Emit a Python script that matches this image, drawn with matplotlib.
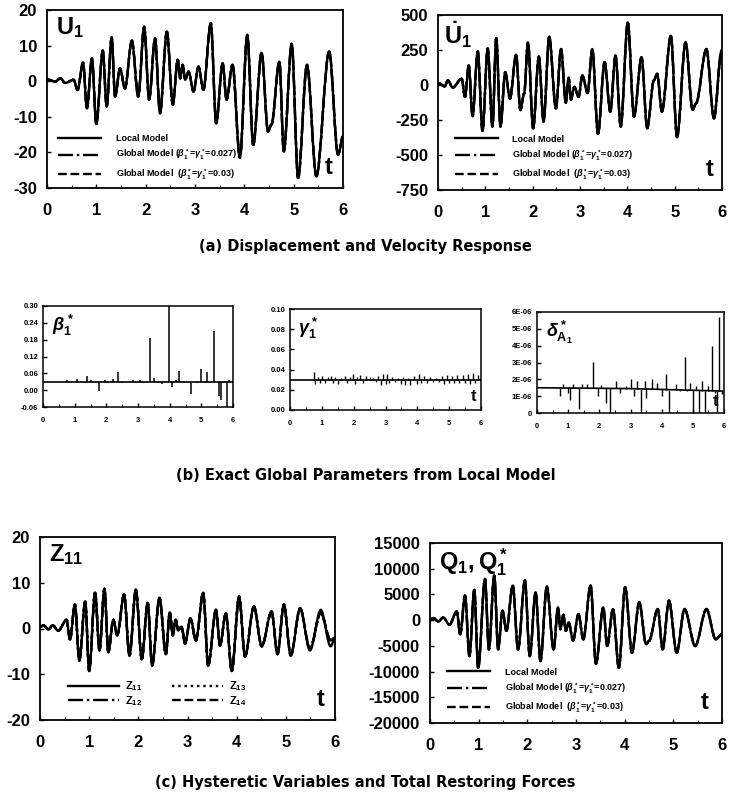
import numpy as np
import matplotlib
matplotlib.use('Agg')
import matplotlib.pyplot as plt
from matplotlib.path import Path
from matplotlib.patches import PathPatch
from matplotlib.ticker import MultipleLocator

plt.rcParams['font.family'] = ['Liberation Sans', 'DejaVu Sans']
plt.rcParams['font.weight'] = 'bold'
plt.rcParams['axes.unicode_minus'] = False
plt.rcParams['mathtext.fontset'] = 'custom'
plt.rcParams['mathtext.rm'] = 'Liberation Sans'
plt.rcParams['mathtext.it'] = 'Liberation Sans:italic'
plt.rcParams['mathtext.bf'] = 'Liberation Sans:bold'

# --- (a) displacement U1: extrema (t, value)
u_t = [0.0, 0.17, 0.27, 0.37, 0.54, 0.62, 0.73, 0.81, 0.91, 1.0, 1.13, 1.21, 1.31, 1.38,
       1.48, 1.58, 1.72, 1.85, 1.97, 2.07, 2.19, 2.29, 2.43, 2.55, 2.65, 2.70, 2.75, 2.80,
       2.87, 2.97, 3.07, 3.17, 3.32, 3.43, 3.56, 3.64, 3.76, 3.91, 4.06, 4.18, 4.35, 4.48,
       4.55, 4.71, 4.80, 4.96, 5.09, 5.27, 5.46, 5.72, 5.90, 6.0]
u_v = [0.5, -0.1, 0.8, -0.5, 0.4, -2.5, 5.2, -7.6, 6.4, -12.0, 8.6, -7.1, 12.3, -4.3,
       3.6, -2.0, 11.4, -4.3, 15.3, -5.2, 12.0, -9.0, 13.9, -6.6, 6.0, 0.8, 4.6, 0.4,
       2.7, -2.9, 4.1, -2.4, 16.3, -11.8, 5.0, -5.2, 4.6, -21.5, 13.0, -17.9, 8.0, -14.1,
       -12.2, 5.5, -19.7, 10.5, -27.2, 4.6, -26.7, 8.3, -20.7, -15.5]

# --- (a) velocity dU1/dt
v_t = [0.0, 0.03, 0.14, 0.21, 0.31, 0.50, 0.57, 0.65, 0.73, 0.84, 0.94, 1.05, 1.15, 1.23,
       1.32, 1.42, 1.52, 1.65, 1.74, 1.82, 1.90, 2.01, 2.13, 2.23, 2.35, 2.49, 2.60, 2.70,
       2.76, 2.81, 2.88, 2.97, 3.05, 3.16, 3.26, 3.38, 3.52, 3.64, 3.75, 3.86, 4.01, 4.14,
       4.30, 4.42, 4.56, 4.63, 4.73, 4.92, 5.05, 5.23, 5.38, 5.45, 5.67, 5.83, 5.99]
v_v = [0, 10, -10, 33, -19, 45, -85, 139, -222, 240, -328, 262, -297, 335,
       -297, 92, -97, 217, -179, -61, 304, -309, 203, -262, 344, -167, 257, -127,
       52, -104, -14, -85, 68, -57, 257, -349, 163, -191, 210, -297, 446, -226,
       198, -309, 33, 80, -191, 351, -373, 304, -179, -132, 257, -238, 245]

# --- (b) exact global parameters: baseline + spikes
beta_base = 0.03
beta_spk_t = [0.76, 1.08, 1.38, 1.52, 1.76, 1.95, 2.05, 2.20, 2.36, 2.48, 2.85, 2.95, 3.05,
              3.15, 3.38, 3.50, 3.62, 3.75, 3.98, 4.08, 4.20, 4.30, 4.45, 4.68, 4.85, 5.00,
              5.10, 5.18, 5.26, 5.40, 5.55, 5.62, 5.72, 5.80, 5.88]
beta_spk_v = [0.036, 0.040, 0.052, 0.036, -0.004, 0.036, 0.026, 0.040, 0.066, 0.025, 0.035,
              0.025, 0.036, 0.026, 0.185, 0.045, 0.025, 0.022, 0.300, 0.012, 0.036, 0.070,
              0.025, -0.015, 0.024, 0.076, 0.025, 0.064, 0.025, 0.210, -0.020, -0.035,
              0.025, -0.060, 0.035]

gamma_base = 0.030
gamma_spk_t = [0.76, 0.80, 0.88, 0.95, 1.02, 1.10, 1.18, 1.28, 1.35, 1.42, 1.52, 1.60, 1.72,
               1.78, 1.88, 1.98, 2.05, 2.12, 2.20, 2.30, 2.40, 2.50, 2.60, 2.70, 2.78, 2.85,
               2.92, 3.00, 3.05, 3.12, 3.20, 3.30, 3.40, 3.50, 3.55, 3.62, 3.70, 3.78, 3.88,
               3.98, 4.05, 4.12, 4.22, 4.30, 4.40, 4.50, 4.60, 4.68, 4.78, 4.85, 4.92, 5.00,
               5.08, 5.15, 5.25, 5.32, 5.42, 5.50, 5.58, 5.65, 5.75, 5.82, 5.90]
gamma_spk_v = [0.038, 0.026, 0.033, 0.027, 0.034, 0.027, 0.033, 0.034, 0.027, 0.033, 0.026,
               0.032, 0.034, 0.027, 0.033, 0.036, 0.026, 0.033, 0.035, 0.027, 0.034, 0.033,
               0.032, 0.028, 0.034, 0.025, 0.036, 0.026, 0.036, 0.027, 0.033, 0.028, 0.032,
               0.026, 0.033, 0.025, 0.032, 0.025, 0.034, 0.026, 0.036, 0.027, 0.034, 0.027,
               0.033, 0.028, 0.032, 0.028, 0.034, 0.026, 0.035, 0.027, 0.034, 0.027, 0.035,
               0.027, 0.035, 0.027, 0.036, 0.026, 0.037, 0.027, 0.035]

delta_base_t = [0.0, 3.0, 6.0]
delta_base_v = [1.50e-6, 1.45e-6, 1.30e-6]
delta_spk_t = [0.75, 0.85, 1.00, 1.05, 1.15, 1.35, 1.45, 1.60, 1.80, 1.95, 2.05, 2.20, 2.35,
               2.55, 2.65, 2.85, 3.00, 3.10, 3.20, 3.35, 3.45, 3.50, 3.70, 3.85, 4.00, 4.15,
               4.25, 4.45, 4.60, 4.75, 4.80, 4.90, 5.00, 5.10, 5.20, 5.30, 5.40, 5.50, 5.63,
               5.70, 5.78, 5.85, 5.92]
delta_spk_v = [1.0, 1.75, 1.2, 0.8, 1.7, 0.25, 1.7, 1.7, 3.05, 1.0, 1.65, 0.6, 0.0,
               1.9, 1.2, 1.6, 2.0, 1.0, 1.9, 0.0, 1.9, 0.9, 2.0, 1.8, 1.0, 2.3,
               0.0, 1.7, 1.3, 3.3, 1.3, 1.8, 0.0, 1.6, 0.0, 1.9, 0.0, 1.6, 4.0,
               1.2, 0.05, 5.7, 1.1]
delta_spk_v = [v * 1e-6 for v in delta_spk_v]

# --- (c) hysteretic variable Z11 and restoring force Q1
z_t = [0.0, 0.07, 0.17, 0.26, 0.37, 0.54, 0.61, 0.71, 0.80, 0.92, 1.00, 1.12, 1.21, 1.31,
       1.39, 1.49, 1.57, 1.71, 1.82, 1.95, 2.07, 2.19, 2.28, 2.43, 2.56, 2.64, 2.70, 2.76,
       2.81, 2.88, 2.95, 3.06, 3.17, 3.32, 3.42, 3.58, 3.66, 3.78, 3.90, 4.05, 4.17, 4.35,
       4.51, 4.71, 4.83, 4.96, 5.10, 5.29, 5.49, 5.71, 5.91, 6.0]
z_v = [0.3, 0.7, -0.2, 0.7, -0.5, 1.9, -2.4, 5.2, -7.0, 5.9, -9.3, 7.8, -4.8, 8.7,
       -5.2, 1.9, -1.5, 7.4, -5.9, 8.5, -6.7, 5.6, -8.1, 6.7, -5.6, 3.5, -1.5, 1.9,
       -0.4, 0.4, -3.3, 2.2, -2.6, 7.8, -8.1, 4.1, -3.7, 3.3, -9.3, 7.0, -6.1, 4.8,
       -3.9, 3.7, -5.6, 5.2, -5.9, 4.4, -4.8, 4.1, -3.9, -2.2]
# Z12..Z14 follow Z11 except near the end
z_tail_t = [5.49, 5.71, 5.91, 6.0]
z_tail_v = [-4.4, 3.4, -2.6, -2.0]

q_t = [0.0, 0.07, 0.17, 0.27, 0.40, 0.55, 0.62, 0.72, 0.81, 0.91, 0.99, 1.13, 1.21, 1.32,
       1.40, 1.49, 1.57, 1.70, 1.81, 1.95, 2.05, 2.17, 2.27, 2.40, 2.54, 2.63, 2.68, 2.74,
       2.79, 2.85, 2.94, 3.05, 3.15, 3.30, 3.41, 3.56, 3.64, 3.76, 3.88, 4.01, 4.15, 4.30,
       4.44, 4.50, 4.68, 4.78, 4.91, 5.07, 5.23, 5.45, 5.68, 5.87, 6.0]
q_v = [0, 400, -260, 520, -900, 1700, -2750, 4770, -7000, 5880, -9280, 8040, -5690, 8690,
       -5690, 1830, -2090, 6730, -5690, 7710, -7000, 5420, -7970, 6540, -5690, 2480, -1760,
       1050, -2090, -460, -3920, 1180, -3730, 6730, -8500, 2480, -5030, 2160, -9280, 6410,
       -6340, 3460, -4700, -4050, 2160, -5690, 3790, -6340, 2160, -5030, 2160, -3730, -2750]

leg_a = ['Local Model',
         r'Global Model ($\beta^*_1$=$\gamma^*_1$=0.027)',
         r'Global Model  ($\beta^*_1$=$\gamma^*_1$=0.03)']

W, H = 731, 795
fig = plt.figure(figsize=(W / 100, H / 100), dpi=100)


def box(l, t, r, b):
    return fig.add_axes([l / W, (H - b) / H, (r - l) / W, (b - t) / H])


def style(ax, fs, lw=1.3, xpad=None):
    for s in ax.spines.values():
        s.set_linewidth(lw)
    ax.tick_params(direction='in', length=3, width=1, labelsize=fs, pad=fs * 0.6,
                   top=False, right=False)
    if xpad is not None:
        ax.tick_params(axis='x', pad=xpad)
    ax.tick_params(which='minor', direction='in', length=2, width=0.8, top=False, right=False)
    ax.set_xlim(0, 6)
    ax.set_xticks(range(7))
    ax.xaxis.set_minor_locator(MultipleLocator(0.5))


def smooth(ax, t, v, ls, lw, label=None):
    # curve through the extrema, flat at each turning point (cubic Bezier segments)
    verts = [(t[0], v[0])]
    codes = [Path.MOVETO]
    for i in range(1, len(t)):
        d = (t[i] - t[i - 1]) / 3
        verts += [(t[i - 1] + d, v[i - 1]), (t[i] - d, v[i]), (t[i], v[i])]
        codes += [Path.CURVE4] * 3
    ax.add_patch(PathPatch(Path(verts, codes), fill=False, ec='k', lw=lw, ls=ls,
                           capstyle='round', joinstyle='round'))
    if label is not None:
        ax.plot([], [], color='k', lw=lw, ls=ls, label=label)


lw_c = 1.7
styles = ['-', '-.', '--']

# (a) left
ax1 = box(47, 10, 343, 188)
for ls, lab in zip(styles, leg_a):
    smooth(ax1, u_t, u_v, ls, lw_c, lab)
ax1.set_ylim(-30, 20)
ax1.set_yticks([-30, -20, -10, 0, 10, 20])
style(ax1, 12, xpad=11)
ax1.legend(loc='lower left', bbox_to_anchor=(0.01, -0.01), frameon=False, fontsize=6.5,
           handlelength=4.8, handletextpad=1.6, labelspacing=0.55)
ax1.text(0.03, 0.97, r'$\mathrm{U}_1$', transform=ax1.transAxes, fontsize=17, va='top')
ax1.text(0.95, 0.05, 't', transform=ax1.transAxes, fontsize=17, ha='center', va='bottom')

# (a) right
ax2 = box(438, 15, 722, 190)
for ls, lab in zip(styles, leg_a):
    smooth(ax2, v_t, v_v, ls, lw_c, lab)
ax2.set_ylim(-750, 500)
ax2.set_yticks([-750, -500, -250, 0, 250, 500])
style(ax2, 12, xpad=11)
ax2.legend(loc='lower left', bbox_to_anchor=(0.03, 0.0), frameon=False, fontsize=6.5,
           handlelength=4.8, handletextpad=1.6, labelspacing=0.55)
ax2.text(0.02, 0.97, r'$\dot{\mathrm{U}}_1$', transform=ax2.transAxes, fontsize=17, va='top')
ax2.text(0.955, 0.05, 't', transform=ax2.transAxes, fontsize=17, ha='center', va='bottom')

cap_font = dict(family='DejaVu Sans', fontsize=10.5, weight='bold', ha='center', va='center')
fig.text(0.5, (H - 246) / H, '(a) Displacement and Velocity Response', **cap_font)

# (b) beta
ax3 = box(43, 306, 233, 407)
ax3.plot([0, 6], [beta_base, beta_base], 'k-', lw=1.2)
ax3.vlines(beta_spk_t, beta_base, beta_spk_v, colors='k', lw=1.1)
ax3.set_ylim(-0.06, 0.30)
ax3.set_yticks([-0.06, 0.0, 0.06, 0.12, 0.18, 0.24, 0.30])
ax3.set_yticklabels(['-0.06', '0.00', '0.06', '0.12', '0.18', '0.24', '0.30'])
style(ax3, 5.5, 1.1, xpad=7)
ax3.text(0.05, 0.93, r'$\beta^*_1$', transform=ax3.transAxes, fontsize=13, va='top')

# (b) gamma
ax4 = box(290, 309, 481, 410)
ax4.plot([0, 6], [gamma_base, gamma_base], 'k-', lw=1.2)
ax4.vlines(gamma_spk_t, gamma_base, gamma_spk_v, colors='k', lw=1.0)
ax4.set_ylim(0, 0.10)
ax4.set_yticks([0, 0.02, 0.04, 0.06, 0.08, 0.10])
ax4.set_yticklabels(['0.00', '0.02', '0.04', '0.06', '0.08', '0.10'])
style(ax4, 5.5, 1.1, xpad=7)
ax4.text(0.04, 0.93, r'$\gamma^*_1$', transform=ax4.transAxes, fontsize=13, va='top')
ax4.text(0.96, 0.06, 't', transform=ax4.transAxes, fontsize=12, ha='center', va='bottom')

# (b) delta
ax5 = box(537, 312, 724, 413)
ax5.plot(delta_base_t, delta_base_v, 'k-', lw=1.2)
ax5.vlines(delta_spk_t, np.interp(delta_spk_t, delta_base_t, delta_base_v), delta_spk_v,
           colors='k', lw=1.0)
ax5.set_ylim(0, 6e-6)
ax5.set_yticks([0, 1e-6, 2e-6, 3e-6, 4e-6, 5e-6, 6e-6])
ax5.set_yticklabels(['0', '1E-06', '2E-06', '3E-06', '4E-06', '5E-06', '6E-06'])
style(ax5, 5.5, 1.1, xpad=7)
ax5.text(0.05, 0.93, r'$\delta^*_{\mathrm{A}_1}$', transform=ax5.transAxes, fontsize=13,
         va='top')
ax5.text(0.955, 0.04, 't', transform=ax5.transAxes, fontsize=12, ha='center', va='bottom')

fig.text(0.5, (H - 475) / H, '(b) Exact Global Parameters from Local Model', **cap_font)

# (c) Z
ax6 = box(40, 537, 335, 720)
z_alt_t = z_t[:-4] + z_tail_t
z_alt_v = z_v[:-4] + z_tail_v
smooth(ax6, z_t, z_v, '-', lw_c, r'$\mathrm{Z}_{11}$')
smooth(ax6, z_alt_t, z_alt_v, '-.', lw_c, r'$\mathrm{Z}_{12}$')
smooth(ax6, z_alt_t, z_alt_v, ':', lw_c, r'$\mathrm{Z}_{13}$')
smooth(ax6, z_alt_t, z_alt_v, '--', lw_c, r'$\mathrm{Z}_{14}$')
ax6.set_ylim(-20, 20)
ax6.set_yticks([-20, -10, 0, 10, 20])
style(ax6, 12, xpad=11)
ax6.legend(loc='lower left', bbox_to_anchor=(0.06, 0.01), frameon=False, fontsize=8, ncol=2,
           handlelength=4.6, handletextpad=0.6, labelspacing=0.1, columnspacing=2.6)
ax6.text(0.03, 0.97, r'$\mathrm{Z}_{11}$', transform=ax6.transAxes, fontsize=17, va='top')
ax6.text(0.95, 0.05, 't', transform=ax6.transAxes, fontsize=17, ha='center', va='bottom')

# (c) Q
ax7 = box(430, 543, 722, 723)
for ls, lab in zip(styles, leg_a):
    smooth(ax7, q_t, q_v, ls, lw_c, lab)
ax7.set_ylim(-20000, 15000)
ax7.set_yticks(range(-20000, 15001, 5000))
style(ax7, 12, xpad=11)
ax7.legend(loc='lower left', bbox_to_anchor=(0.03, 0.0), frameon=False, fontsize=6.5,
           handlelength=4.8, handletextpad=1.6, labelspacing=0.55)
ax7.text(0.03, 0.98, r'$\mathrm{Q}_1,\mathrm{Q}^*_1$', transform=ax7.transAxes, fontsize=17,
         va='top')
ax7.text(0.94, 0.05, 't', transform=ax7.transAxes, fontsize=17, ha='center', va='bottom')

fig.text(0.5, (H - 782) / H, '(c) Hysteretic Variables and Total Restoring Forces', **cap_font)

fig.savefig('out.png', dpi=100)
